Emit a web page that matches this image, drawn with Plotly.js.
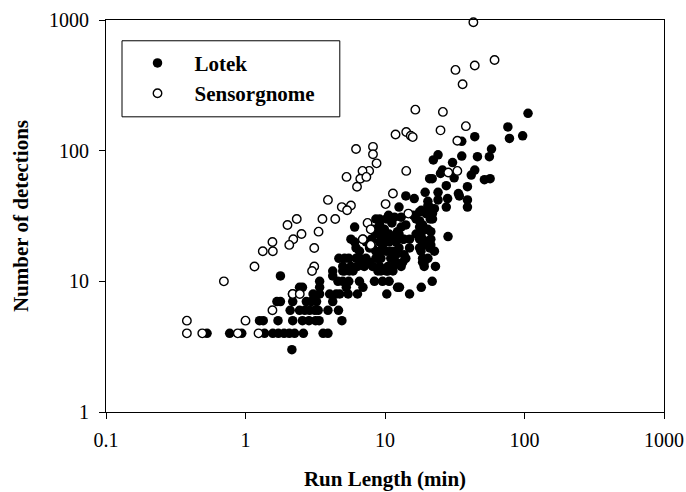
<!DOCTYPE html>
<html>
<head>
<meta charset="utf-8">
<script src="https://cdn.plot.ly/plotly-3.0.1.min.js"></script>
<style>html,body{margin:0;padding:0;background:#fff;}</style>
</head>
<body>
<div id="chart" style="width:686px;height:492px;"></div>
<script>
// Lotek: run length (min) and number of detections
const lotekRun = [
  2.15,
  0.53,0.77,0.94,1.37,1.57,1.72,1.89,2.06,2.25,2.6,3.6,3.9,
  1.26,1.34,1.71,2.18,2.56,2.85,3.18,3.37,4.91,
  2.09,2.44,2.66,2.88,3.14,3.32,3.9,4.64,
  1.68,1.78,2.18,2.73,2.96,3.23,4.22,
  1.78,2.17,2.56,3.05,3.4,3.4,3.4,4.01,4.47,4.74,4.22,4.22,4.6,4.98,5.28,5.44,4.67,4.98,5.13,2.44,
  5.5,5.7,5.9,6.2,6.35,5.5,6.56,6.95,6.35,7.31,7.75,8.15,8.9,9.35,8.9,10.2,11.4,12.0,13.4,10.5,8.4,9.6,10.7,10.3,12.3,12.7,15.0,18.2,21.8,19.1,23.0,20.3,18.6,
  5.7,6.06,6.95,7.31,7.75,9.15,9.15,10.7,11.0,12.6,15.0,15.0,17.7,21.3,19.7,20.9,
  8.15,8.4,8.6,9.4,9.6,10.7,11.5,12.6,13.4,16.7,17.7,18.6,
  6.06,8.6,9.15,10.6,11.2,13.05,14.1,17.7,18.6,21.9,19.4,21.3,28.3,10.2,16.0,16.7,19.7,21.1,
  14.1,16.2,20.3,20.9,22.6,18.2,12.6,
  17.7,21.9,11.7,10.7,13.05,12.3,17.7,18.1,20.3,9.15,8.6,9.15,9.9,10.2,11.7,12.0,13.7,18.6,18.1,21.3,22.6,6.2,6.56,8.0,8.15,8.6,9.6,10.2,11.7,12.0,13.7,14.1,5.13,6.56,6.95,7.1,8.6,9.15,9.35,11.0,11.4,18.6,19.1,4.98,5.55,10.5,13.05,
  106,76,78,97,44,35.5,58,56,46,35.5,24,22.2,30.5,25.8,44,41.5,31.3,51.6,56.7,20.9,21.8,39,27.5,19.4,24,33.6,34.1,24,28.1,39,20.3,27.5,39,25
];
const lotekDet = [
  3,
  4,4,4,4,4,4,4,4,4,4,4,4,
  5,5,5,5,5,5,5,5,5,
  6,6,6,6,6,6,6,6,
  7,7,7,7,7,7,7,
  11,8,9,8,8,10,9,8,8,8,12,11,10,10,9,8,15,12,12,9,
  15,13,12,15,13,10,10,9,8,15,14,13,15,15,12,12,12,14,14,13,10,10,10,8,9,9,8,9,10,13,13,15,14,
  21,20,21,20,18,20,17,20,17,18,21,18,18,21,20,18,
  25,24,23,25,22,23,22,23,21,23,21,21,
  26,30,27,32,28,31,27,29,27,30,25,24,22,30,32,30,33,30,
  45,43,41,37,36,35,37,
  34,33,31,30,26,24,26,23,25,30,25,23,25,22,22,20,21,19,17,19,17,18,17,21,18,17,19,17,17,16,16,15,15,15,14,13,15,13,12,15,13,15,14,13,12,12,13,
  193,152,124,130,128,118,103,90,90,91,93,85,81,71,71,65,62,60,61,61,61,53,54,48,48,47,45,42,43,42,38,37,37,67
];
// Sensorgnome: run length (min) and number of detections
const sensorRun = [
  43,61,32,44,36,16.5,26,38,25,14.2,11.9,15.3,15.8,33,8.2,6.2,8.2,8.7,14.2,7.7,6.9,5.3,6.65,7.35,6.3,28.4,33,11.4,10.1,
  3.9,4.9,5.7,5.35,3.56,4.4,2.33,2.0,3.34,2.52,2.2,2.06,1.56,1.33,1.57,3.11,1.16,3.11,3.0,6.93,7.5,7.9,7.9,
  0.70,2.18,2.45,1.56,1.0,0.38,0.38,0.49,0.88,1.24,14.7
];
const sensorDet = [
  960,494,415,448,322,206,198,154,143,139,133,130,127,119,107,103,94,80,70,70,70,63,61,63,53,68,70,47,39,
  42,37,38,35,30,30,30,27,24,23,21,19,20,17,17,18,13,13,12,21,28,19,25,
  10,8,8,6,5,5,4,4,4,4,33
];
const seriesNames = ['Lotek', 'Sensorgnome'];
const xTickVals = [0.1, 1, 10, 100, 1000];
const xTickText = ['0.1', '1', '10', '100', '1000'];
const yTickVals = [1, 10, 100, 1000];
const yTickText = ['1', '10', '100', '1000'];

const serif = 'Liberation Serif, Times New Roman, serif';

const traces = [
  {
    type: 'scatter', mode: 'markers', name: seriesNames[0],
    x: lotekRun, y: lotekDet,
    marker: {symbol: 'circle', size: 9.5, color: '#000', line: {width: 0}},
    cliponaxis: false
  },
  {
    type: 'scatter', mode: 'markers', name: seriesNames[1],
    x: sensorRun, y: sensorDet,
    marker: {symbol: 'circle', size: 8.5, color: '#fff', line: {width: 1.4, color: '#000'}},
    cliponaxis: false
  }
];

const layout = {
  width: 686, height: 492,
  margin: {l: 106, r: 22, t: 20, b: 80},
  paper_bgcolor: '#fff', plot_bgcolor: '#fff',
  font: {family: serif, color: '#000', size: 20},
  showlegend: true,
  legend: {
    x: 0.026, y: 0.942, xanchor: 'left', yanchor: 'top',
    bgcolor: 'rgba(0,0,0,0)', borderwidth: 0,
    font: {family: serif, size: 21, weight: 'bold', color: '#000'},
    itemwidth: 64
  },
  xaxis: {
    type: 'log', range: [-1, 3],
    tickmode: 'array', tickvals: xTickVals, ticktext: xTickText,
    ticks: 'outside', ticklen: 6, tickwidth: 1, tickcolor: '#000',
    ticklabelstandoff: 4,
    showline: true, linecolor: '#000', linewidth: 1, mirror: true,
    showgrid: false, zeroline: false, automargin: false,
    tickfont: {family: serif, size: 20, color: '#000'},
    title: {text: 'Run Length (min)', standoff: 21, font: {family: serif, size: 21, weight: 'bold', color: '#000'}}
  },
  yaxis: {
    type: 'log', range: [0, 3],
    tickmode: 'array', tickvals: yTickVals, ticktext: yTickText,
    ticks: 'outside', ticklen: 6, tickwidth: 1, tickcolor: '#000',
    ticklabelstandoff: 6,
    showline: true, linecolor: '#000', linewidth: 1, mirror: true,
    showgrid: false, zeroline: false, automargin: false,
    tickfont: {family: serif, size: 20, color: '#000'},
    title: {text: 'Number of detections', standoff: 14, font: {family: serif, size: 21, weight: 'bold', color: '#000'}}
  },
  shapes: [
    {type: 'rect', xref: 'paper', yref: 'paper', x0: 0.0287, x1: 0.419, y0: 0.753, y1: 0.947,
     line: {color: '#000', width: 1}, fillcolor: 'rgba(0,0,0,0)', layer: 'below'}
  ]
};

Plotly.newPlot('chart', traces, layout, {displayModeBar: false, staticPlot: true});
</script>
</body>
</html>
